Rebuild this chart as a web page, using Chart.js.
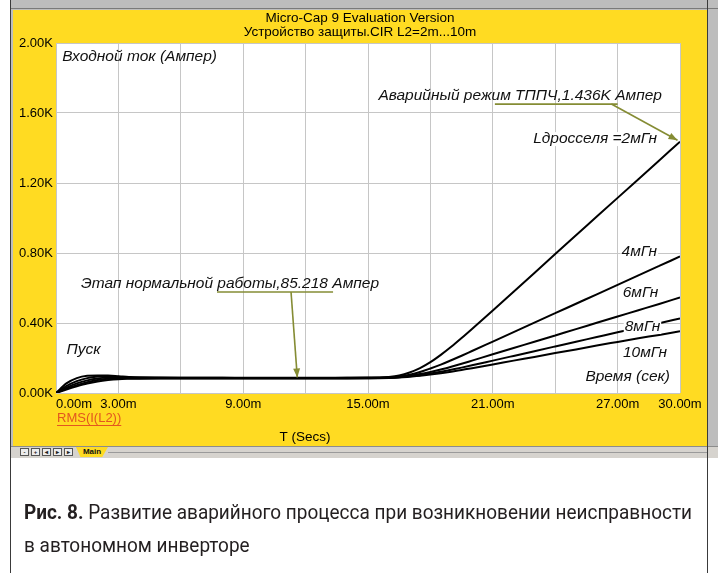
<!DOCTYPE html>
<html>
<head>
<meta charset="utf-8">
<script src="https://cdn.jsdelivr.net/npm/chart.js@4/dist/chart.umd.min.js"></script>
<style>
  html, body { margin: 0; padding: 0; background: #fff; }
  #page { position: relative; width: 718px; height: 573px; overflow: hidden; background: #fff; }
  .abs { position: absolute; }
  #boxL { left: 10px; top: 0; width: 1px; height: 573px; background: #3a3a3a; }
  #boxR { left: 707px; top: 0; width: 1px; height: 573px; background: #3a3a3a; }
  #win { left: 11px; top: 0; width: 707px; height: 458px; background: #bdbdbd; }
  #winTop { left: 11px; top: 8px; width: 707px; height: 1px; background: #7a7a7a; }
  #panel { left: 13px; top: 10px; width: 694px; height: 436px; background: #ffdb22; }
  #tabbar { left: 11px; top: 446px; width: 707px; height: 12px; background: #d6d3ce; border-top: 1px solid #8c8c8c; box-sizing: border-box; }
  #tabline { left: 108px; top: 452px; width: 600px; height: 1px; background: #9a9a9a; }
  .btn { top: 448px; width: 9px; height: 8px; background: #ececec; border: 1px solid #555; box-sizing: border-box;
         font: bold 6px "Liberation Sans", Arial, sans-serif; line-height: 6px; text-align: center; color: #222; }
  #tabMain { left: 76px; top: 447px; width: 32px; height: 10px; background: #ffdb22;
             clip-path: polygon(0 0, 100% 0, 82% 100%, 14% 100%);
             font: bold 8px "Liberation Sans", Arial, sans-serif; line-height: 10px; text-align: center; color: #111; }
  #chart { position: absolute; left: 0; top: 0; }
  #caption { left: 24px; top: 496px; font-family: Roboto, "Noto Sans", sans-serif; font-size: 21px; color: #231f20;
             line-height: 33px; white-space: nowrap; transform-origin: 0 0; }
  #caption b { font-weight: 700; }
</style>
</head>
<body>
<div id="page">
  <div class="abs" id="win"></div>
  <div class="abs" id="winTop"></div>
  <div class="abs" id="panel"></div>
  <div class="abs" id="tabbar"></div>
  <div class="abs" id="tabline"></div>
  <div class="abs btn" style="left:20px">-</div>
  <div class="abs btn" style="left:31px">+</div>
  <div class="abs btn" style="left:42px">&#9666;</div>
  <div class="abs btn" style="left:53px">&#9656;</div>
  <div class="abs btn" style="left:64px">&#9656;</div>
  <div class="abs" id="tabMain">Main</div>
  <div class="abs" id="boxL"></div>
  <div class="abs" id="boxR"></div>
  <canvas id="chart" width="718" height="573"></canvas>
  <div class="abs" id="caption"><span id="capLine1"><b>Рис. 8.</b> Развитие аварийного процесса при возникновении неисправности</span><br><span>в автономном инверторе</span></div>
</div>
<script>
// Simulation time, ms
const timeMs = [0, 0.5, 1, 1.5, 2, 2.5, 3, 3.5, 4, 5,
                6, 7, 8, 9, 10, 11, 12, 13, 14, 15,
                15.5, 16, 16.5, 17, 17.5, 18, 18.5, 19, 19.5, 20,
                21, 22, 23, 24, 25, 26, 27, 28, 29, 30];

// RMS input current, A, for each choke inductance
const current2mH = [0, 55, 85, 98, 100, 100, 96, 91, 89, 88,
                    87.5, 87.5, 87.5, 87.3, 87.2, 87.2, 87.2, 87.3, 87.5, 88,
                    89, 92, 100, 117, 142, 176, 218, 264, 314, 366,
                    472, 579, 686, 794, 901, 1008, 1115, 1222, 1329, 1436];
const current4mH = [0, 40, 68, 85, 94, 96, 93, 90, 88, 87,
                    86.5, 86.5, 86.5, 86.3, 86.2, 86.2, 86.2, 86.3, 86.5, 87,
                    87.5, 89.5, 95, 105, 120, 140, 162, 187, 213, 240,
                    294, 348, 402, 456, 510, 564, 618, 672, 726, 780];
const current6mH = [0, 30, 55, 72, 83, 88, 89, 88, 87, 86,
                    85.5, 85.5, 85.5, 85.3, 85.2, 85.2, 85.2, 85.3, 85.5, 86,
                    86.5, 88, 92, 99, 108, 120, 134, 150, 167, 185,
                    221, 257, 293, 329, 365, 401, 437, 473, 509, 546];
const current8mH = [0, 25, 45, 62, 74, 81, 84, 85, 85, 84.5,
                    84.3, 84.2, 84.2, 84.2, 84.1, 84.1, 84.1, 84.2, 84.4, 84.8,
                    85.3, 86.5, 89.5, 95, 102, 111, 121, 133, 145, 158,
                    185, 212, 239, 266, 293, 320, 347, 373, 399, 426];
const current10mH = [0, 20, 38, 54, 66, 74, 79, 81, 82, 83,
                     83.2, 83.2, 83.2, 83.1, 83, 83, 83, 83.1, 83.3, 83.8,
                     84.5, 86, 88.5, 93, 98, 105, 113, 122, 132, 142,
                     163, 185, 206, 228, 249, 271, 292, 313, 332, 353];

const seriesNames = ['Lдросселя =2мГн', '4мГн', '6мГн', '8мГн', '10мГн'];
const seriesValues = [current2mH, current4mH, current6mH, current8mH, current10mH];

// Axis ticks
const xGridMs = [0, 3, 6, 9, 12, 15, 18, 21, 24, 27, 30];
const xLabelledMs = [0, 3, 9, 15, 21, 27, 30];
const yTickAmps = [0, 400, 800, 1200, 1600, 2000];

// Key values called out on the plot
const normalCurrent = 85.218;
const faultCurrent = 1436;
const normalMarkMs = 11.6;
const faultMarkMs = 30;

const FONT = '"Liberation Sans", Arial, sans-serif';
const OLIVE = '#858c34';

// Free text placed on the plot, in axis units
const notes = [
  { text: 'Входной ток (Ампер)', t: 0.3, v: 1920, align: 'left' },
  { text: 'Пуск', t: 0.5, v: 246, align: 'left' },
  { text: 'Этап нормальной работы,' + normalCurrent + ' Ампер', t: 1.2, v: 623, align: 'left' },
  { text: 'Аварийный режим ТППЧ,' + (faultCurrent / 1000).toFixed(3) + 'K Ампер', t: 15.5, v: 1697, align: 'left' },
  { text: seriesNames[0], t: 28.9, v: 1451, align: 'right', box: true },
  { text: seriesNames[1], t: 28.9, v: 806, align: 'right', box: true },
  { text: seriesNames[2], t: 28.95, v: 571, align: 'right', box: true },
  { text: seriesNames[3], t: 29.05, v: 377, align: 'right', box: true },
  { text: seriesNames[4], t: 29.38, v: 229, align: 'right', box: true },
  { text: 'Время (сек)', t: 29.52, v: 91, align: 'right' }
];

// Callout leaders: underline under the text, then an arrow to the point
const callouts = [
  { u0: 7.74, u1: 13.32, uv: 577, from: [11.3, 577], to: [normalMarkMs, normalCurrent + 4] },
  { u0: 21.1, u1: 27.0, uv: 1651, from: [26.7, 1651], to: [faultMarkMs - 0.12, faultCurrent + 8] }
];

function arrow(ctx, x0, y0, x1, y1) {
  ctx.beginPath();
  ctx.moveTo(x0, y0);
  ctx.lineTo(x1, y1);
  ctx.stroke();
  const a = Math.atan2(y1 - y0, x1 - x0), L = 9, W = 3.5;
  ctx.beginPath();
  ctx.moveTo(x1, y1);
  ctx.lineTo(x1 - L * Math.cos(a) + W * Math.sin(a), y1 - L * Math.sin(a) - W * Math.cos(a));
  ctx.lineTo(x1 - L * Math.cos(a) - W * Math.sin(a), y1 - L * Math.sin(a) + W * Math.cos(a));
  ctx.closePath();
  ctx.fill();
}

const plotDecor = {
  id: 'plotDecor',
  beforeDraw(chart) {
    const { ctx, chartArea: a } = chart;
    ctx.save();
    ctx.fillStyle = '#ffffff';
    ctx.fillRect(a.left, a.top, a.right - a.left, a.bottom - a.top);
    ctx.restore();
  },
  afterDatasetsDraw(chart) {
    const { ctx, scales: { x, y } } = chart;
    ctx.save();
    // leaders
    ctx.strokeStyle = OLIVE;
    ctx.fillStyle = OLIVE;
    ctx.lineWidth = 1.6;
    callouts.forEach(c => {
      ctx.beginPath();
      ctx.moveTo(x.getPixelForValue(c.u0), y.getPixelForValue(c.uv));
      ctx.lineTo(x.getPixelForValue(c.u1), y.getPixelForValue(c.uv));
      ctx.stroke();
      arrow(ctx, x.getPixelForValue(c.from[0]), y.getPixelForValue(c.from[1]),
                 x.getPixelForValue(c.to[0]), y.getPixelForValue(c.to[1]));
    });
    // text
    ctx.font = 'italic 15.5px ' + FONT;
    ctx.textBaseline = 'middle';
    notes.forEach(n => {
      const px = x.getPixelForValue(n.t), py = y.getPixelForValue(n.v);
      const w = ctx.measureText(n.text).width;
      const left = n.align === 'right' ? px - w : px;
      if (n.box) {
        ctx.fillStyle = '#ffffff';
        ctx.fillRect(left - 1, py - 7, w + 2, 14);
      }
      ctx.fillStyle = '#111111';
      ctx.textAlign = 'left';
      ctx.fillText(n.text, left, py);
    });
    ctx.restore();
  },
  afterDraw(chart) {
    const { ctx } = chart;
    ctx.save();
    ctx.fillStyle = '#000';
    ctx.textAlign = 'center';
    ctx.textBaseline = 'middle';
    ctx.font = '13.5px ' + FONT;
    ctx.fillText('Micro-Cap 9 Evaluation Version', 360, 18);
    ctx.fillText('Устройство защиты.CIR L2=2m...10m', 360, 32);
    ctx.fillText('T (Secs)', 305, 437);
    // trace name under the time axis
    ctx.font = '13px ' + FONT;
    ctx.fillStyle = '#e3561f';
    ctx.strokeStyle = '#e3561f';
    ctx.textAlign = 'left';
    const nm = 'RMS(I(L2))';
    ctx.fillText(nm, 57, 418);
    const w = ctx.measureText(nm).width;
    ctx.lineWidth = 1;
    ctx.beginPath();
    ctx.moveTo(57, 425.5);
    ctx.lineTo(57 + w, 425.5);
    ctx.stroke();
    ctx.restore();
  }
};

new Chart(document.getElementById('chart'), {
  type: 'line',
  data: {
    datasets: seriesValues.map((vals, i) => ({
      label: seriesNames[i],
      data: timeMs.map((t, k) => ({ x: t, y: vals[k] })),
      borderColor: '#000000',
      borderWidth: 2,
      pointRadius: 0,
      fill: false,
      cubicInterpolationMode: 'monotone'
    }))
  },
  options: {
    responsive: false,
    animation: false,
    events: [],
    layout: { padding: { left: 0, top: 43, right: 38, bottom: 158 } },
    plugins: { legend: { display: false }, tooltip: { enabled: false }, title: { display: false } },
    scales: {
      x: {
        type: 'linear',
        min: 0, max: 30,
        afterBuildTicks: s => { s.ticks = xGridMs.map(v => ({ value: v })); },
        afterFit: s => { s.height = 22; },
        grid: { color: '#c6c6c6', lineWidth: 1, drawTicks: false },
        border: { display: false },
        ticks: {
          autoSkip: false, maxRotation: 0, padding: 4,
          color: '#000', font: { family: FONT, size: 13 },
          callback: v => {
            if (!xLabelledMs.includes(v)) return '';
            const s = v.toFixed(2) + 'm';
            return v === 0 ? '\u00a0'.repeat(10) + s : s;
          }
        }
      },
      y: {
        min: 0, max: 2000,
        afterBuildTicks: s => { s.ticks = yTickAmps.map(v => ({ value: v })); },
        afterFit: s => { s.width = 56; },
        grid: { color: '#c6c6c6', lineWidth: 1, drawTicks: false },
        border: { display: false },
        ticks: {
          padding: 3, color: '#000', font: { family: FONT, size: 13 },
          callback: v => (v / 1000).toFixed(2) + 'K'
        }
      }
    }
  },
  plugins: [plotDecor]
});

// fit the caption's first line to the figure width
const cap = document.getElementById('caption');
const natural = document.getElementById('capLine1').getBoundingClientRect().width;
cap.style.transform = 'scaleX(' + (668 / natural) + ')';
</script>
</body>
</html>
